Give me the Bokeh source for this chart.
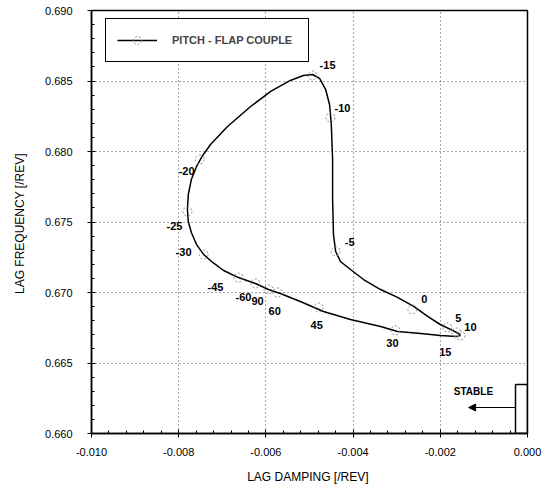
import numpy as np
from bokeh.plotting import figure
from bokeh.models import (ColumnDataSource, FixedTicker, PrintfTickFormatter, Legend, LegendItem,
                          Arrow, NormalHead, BoxAnnotation, Label)
from bokeh.core.properties import value
from bokeh.embed import file_html
from bokeh.resources import INLINE

# ---- traced loop (lag damping [/rev], lag frequency [/rev]) ----
curve_damping = [-0.00594, -0.00624, -0.00663, -0.00697, -0.00722, -0.00743, -0.00759, -0.00771,
                 -0.00778, -0.00780, -0.00778, -0.00771, -0.00759, -0.00745, -0.00727, -0.00688,
                 -0.00635, -0.00589, -0.00544, -0.00514, -0.00493, -0.00477, -0.00463, -0.00454,
                 -0.00450, -0.00447, -0.00447, -0.00445, -0.00440, -0.00429, -0.00406, -0.00376,
                 -0.00337, -0.00298, -0.00261, -0.00229, -0.00200, -0.00172, -0.00158, -0.00154,
                 -0.00163, -0.00200, -0.00245, -0.00298, -0.00337, -0.00406, -0.00468, -0.00521,
                 -0.00567, -0.00594]
curve_freq = [0.67021, 0.67064, 0.67106, 0.67156, 0.67213, 0.67270, 0.67340, 0.67426,
              0.67504, 0.67589, 0.67695, 0.67801, 0.67894, 0.67972, 0.68050, 0.68177,
              0.68319, 0.68426, 0.68504, 0.68539, 0.68546, 0.68518, 0.68440, 0.68333,
              0.68191, 0.67943, 0.67660, 0.67411, 0.67291, 0.67220, 0.67163, 0.67092,
              0.67021, 0.66965, 0.66901, 0.66830, 0.66773, 0.66731, 0.66709, 0.66695,
              0.66688, 0.66695, 0.66709, 0.66723, 0.66759, 0.66809, 0.66865, 0.66936,
              0.66993, 0.67021]

# ---- pitch-flap coupling angle points ----
angle_labels = ["-60", "-45", "-30", "-25", "-20", "-15", "-10", "-5",
                "0", "5", "10", "15", "30", "45", "60", "90"]
angle_damping = [-0.00624, -0.00663, -0.00743, -0.00780, -0.00752, -0.00493, -0.00452, -0.00440,
                 -0.00264, -0.00184, -0.00163, -0.00154, -0.00303, -0.00479, -0.00573, -0.00594]
angle_freq = [0.67064, 0.67106, 0.67270, 0.67574, 0.67943, 0.68539, 0.68241, 0.67291,
              0.66880, 0.66752, 0.66716, 0.66695, 0.66731, 0.66894, 0.67000, 0.67021]

x_ticks = [-0.010, -0.008, -0.006, -0.004, -0.002, 0.0]
y_ticks = [0.660, 0.665, 0.670, 0.675, 0.680, 0.685, 0.690]

legend_label = "PITCH - FLAP COUPLE"
stable_text = "STABLE"
stable_box = dict(left=-0.000275, right=0.0, bottom=0.660, top=0.66348)
stable_arrow = dict(x_start=-0.000275, x_end=-0.00135, y=0.661845)
stable_label_pos = (-0.00124, 0.66298)

# label pixel offsets (style)
label_dx = [-12, -23, -20, -13, -13, 15, 12, 14, 12, 11, 14, -15, -3, -2, -3, -11]
label_dy = [14, 9, -2, 14, 11, -11, -10, -9, -10, -9, -6, 16, 13, 18, 18, 11]

FONT = "Liberation Sans"

p = figure(width=548, height=488, output_backend="svg", toolbar_location=None,
           x_range=(-0.010, 0.0), y_range=(0.660, 0.690),
           min_border_left=91, min_border_right=21, min_border_top=10, min_border_bottom=55,
           x_axis_label="LAG DAMPING  [/REV]", y_axis_label="LAG FREQUENCY  [/REV]")

p.outline_line_color = "black"
p.outline_line_width = 1.5
p.background_fill_color = "white"

xt = FixedTicker(ticks=x_ticks, minor_ticks=[round(v, 5) for v in np.arange(-0.010, 0.00001, 0.0004)])
yt = FixedTicker(ticks=y_ticks, minor_ticks=[round(v, 4) for v in np.arange(0.660, 0.69001, 0.001)])
p.xaxis.ticker = xt
p.yaxis.ticker = yt
p.xgrid.ticker = xt
p.ygrid.ticker = yt
p.xaxis.formatter = PrintfTickFormatter(format="%.3f")
p.yaxis.formatter = PrintfTickFormatter(format="%.3f")

for ax in (p.xaxis[0], p.yaxis[0]):
    ax.axis_line_width = 1.5
    ax.axis_line_color = "black"
    ax.major_tick_in = 4
    ax.major_tick_out = 4
    ax.minor_tick_in = 3
    ax.minor_tick_out = 0
    ax.major_tick_line_color = "black"
    ax.minor_tick_line_color = "black"
    ax.major_label_text_font = FONT
    ax.major_label_text_font_size = "11px"
    ax.major_label_text_color = "black"
    ax.axis_label_text_font = FONT
    ax.axis_label_text_font_size = "12px"
    ax.axis_label_text_font_style = "normal"
    ax.axis_label_text_color = "black"

p.yaxis.major_label_standoff = 15
p.yaxis.axis_label_standoff = 15
p.xaxis.major_label_standoff = 10
p.xaxis.axis_label_standoff = 11

p.grid.grid_line_color = "black"
p.grid.grid_line_dash = "1 3"
p.grid.grid_line_alpha = 0.7

line_r = p.line(curve_damping, curve_freq, line_color="black", line_width=1.5)

src = ColumnDataSource(dict(x=angle_damping, y=angle_freq, t=angle_labels, dx=label_dx, dy=label_dy))
mark_r = p.scatter("x", "y", source=src, marker="circle", size=9, fill_color=None,
                   line_color="#8a8a8a", line_dash="2 2", line_width=1)
p.text("x", "y", text="t", source=src, x_offset="dx", y_offset="dy",
       text_align="center", text_baseline="middle", text_font=value(FONT),
       text_font_size="11px", text_font_style="bold", text_color="black")

p.add_layout(BoxAnnotation(**stable_box, fill_alpha=0, line_color="black", line_width=1.5,
                           line_alpha=1))
p.add_layout(Arrow(end=NormalHead(size=7, fill_color="black", line_color="black"),
                   x_start=stable_arrow["x_start"], y_start=stable_arrow["y"],
                   x_end=stable_arrow["x_end"], y_end=stable_arrow["y"],
                   line_color="black", line_width=1.2))
p.add_layout(Label(x=stable_label_pos[0], y=stable_label_pos[1], text=stable_text,
                   text_align="center", text_baseline="middle", text_font=FONT,
                   text_font_size="10px", text_font_style="bold", text_color="black"))

legend = Legend(items=[LegendItem(label=legend_label, renderers=[line_r, mark_r])],
                location=(14, 371), margin=0, padding=11, spacing=0,
                glyph_width=40, glyph_height=20, label_height=20, label_width=125,
                label_standoff=15,
                label_text_font=FONT, label_text_font_size="11px", label_text_font_style="bold",
                border_line_color="black", border_line_width=1.5, border_line_alpha=1,
                background_fill_color="white", background_fill_alpha=1)
p.add_layout(legend)

open("out.html", "w").write(file_html(p, INLINE))
